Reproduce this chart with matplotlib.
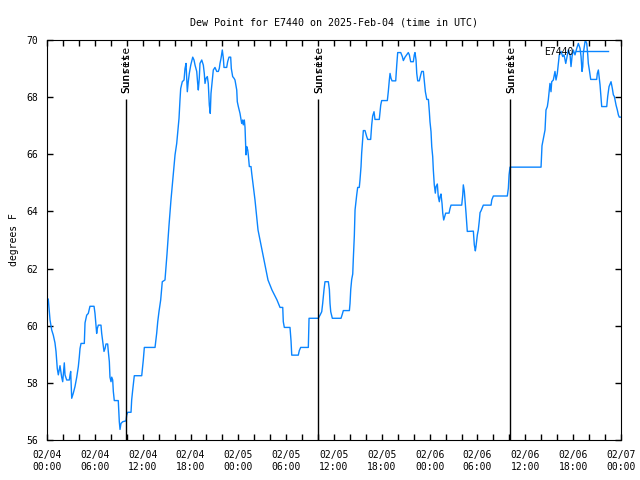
import matplotlib
matplotlib.use('Agg')
import numpy as np
import matplotlib.pyplot as plt

# hours since 2025-02-04 00:00 UTC, dew point in degrees F
hours = [0.16, 0.38, 0.59, 0.79, 1.00, 1.13, 1.29, 1.42, 1.63, 1.84, 1.97, 2.17, 2.26, 2.47, 2.80, 2.89, 2.97,
         3.10, 3.30, 3.51, 3.73, 3.93, 4.05, 4.14, 4.27, 4.68, 4.77, 4.98, 5.18, 5.39, 5.90, 6.02, 6.15, 6.23,
         6.31, 6.44, 6.77, 6.86, 7.06, 7.15, 7.28, 7.40, 7.61, 7.69, 7.82, 7.90, 8.03, 8.12, 8.24, 8.32, 8.44,
         8.94, 9.07, 9.16, 9.28, 9.50, 9.91, 10.00, 10.12, 10.54, 10.62, 10.75, 10.95, 11.88, 12.08, 12.21,
         13.55, 13.76, 13.89, 14.05, 14.26, 14.46, 14.80, 15.05, 15.30, 15.55, 15.84, 16.06, 16.27, 16.39,
         16.56, 16.68, 16.77, 16.97, 17.19, 17.31, 17.44, 17.52, 17.60, 17.72, 17.85, 18.03, 18.28, 18.44,
         18.57, 18.78, 18.90, 18.98, 19.10, 19.19, 19.41, 19.61, 19.73, 19.82, 19.95, 20.11, 20.23, 20.36,
         20.48, 20.57, 20.74, 20.86, 21.07, 21.29, 21.49, 21.61, 21.70, 21.83, 21.99, 22.12, 22.20, 22.54,
         22.66, 22.83, 23.04, 23.12, 23.29, 23.46, 23.58, 23.80, 23.87, 24.00, 24.21, 24.42, 24.55, 24.62,
         24.75, 24.84, 24.96, 25.05, 25.18, 25.25, 25.38, 25.59, 25.68, 26.09, 26.47, 26.97, 27.35, 27.72,
         28.22, 28.85, 29.23, 29.57, 29.64, 29.77, 30.48, 30.61, 30.70, 31.52, 31.65, 31.82, 32.78, 32.87,
         34.03, 34.25, 34.46, 34.58, 34.75, 34.87, 35.29, 35.42, 35.50, 35.59, 35.79, 36.88, 37.05, 37.17,
         37.93, 38.01, 38.10, 38.22, 38.35, 38.42, 38.55, 38.64, 38.85, 38.97, 39.17, 39.26, 39.39, 39.47,
         39.60, 39.68, 39.89, 40.10, 40.23, 40.60, 40.73, 40.85, 41.02, 41.14, 41.68, 41.86, 41.98, 42.69,
         42.81, 42.94, 43.03, 43.15, 43.28, 43.74, 43.87, 43.99, 44.37, 44.57, 44.70, 44.91, 45.12, 45.32,
         45.45, 45.62, 45.95, 46.07, 46.16, 46.29, 46.38, 46.50, 46.70, 46.88, 47.00, 47.21, 47.34, 47.46,
         47.64, 47.84, 47.96, 48.04, 48.17, 48.26, 48.38, 48.46, 48.58, 48.71, 48.80, 48.96, 49.08, 49.21,
         49.30, 49.42, 49.55, 49.64, 49.76, 49.89, 50.01, 50.43, 50.55, 50.68, 52.02, 52.15, 52.22, 52.35,
         52.47, 52.56, 52.65, 52.72, 53.48, 53.60, 53.73, 53.81, 53.98, 54.10, 54.23, 54.32, 54.44, 54.57,
         54.73, 55.70, 55.79, 55.99, 57.74, 57.87, 57.96, 58.08, 61.97, 62.09, 62.47, 62.59, 62.76, 62.88,
         63.09, 63.22, 63.31, 63.51, 63.72, 63.85, 64.01, 64.14, 64.26, 64.48, 64.69, 64.85, 65.07, 65.27,
         65.39, 65.61, 65.73, 65.86, 66.02, 66.23, 66.45, 66.65, 66.86, 66.99, 67.11, 67.20, 67.27, 67.40,
         67.52, 67.70, 67.83, 67.90, 68.03, 68.20, 68.95, 69.03, 69.16, 69.28, 69.37, 69.49, 69.58, 70.21,
         70.33, 70.50, 70.75, 70.91, 71.04, 71.17, 71.38, 71.54, 71.67, 71.79, 72.00]
dewpt = [60.93, 60.2, 59.85, 59.67, 59.4, 59.1, 58.5, 58.28, 58.6, 58.2, 58.04, 58.7, 58.28, 58.1, 58.1, 58.28, 58.4,
         57.46, 57.64, 57.87, 58.2, 58.57, 58.9, 59.2, 59.38, 59.38, 60.1, 60.37, 60.43, 60.68, 60.68, 60.43, 59.97, 59.73,
         59.9, 60.02, 60.02, 59.73, 59.3, 59.1, 59.2, 59.36, 59.36, 59.1, 58.74, 58.2, 58.04, 58.2, 58.1, 57.7, 57.38,
         57.38, 56.64, 56.37, 56.58, 56.64, 56.67, 56.87, 56.97, 56.97, 57.4, 57.75, 58.25, 58.25, 58.8, 59.24,
         59.24, 59.74, 60.14, 60.5, 60.9, 61.54, 61.6, 62.5, 63.5, 64.4, 65.28, 65.98, 66.38, 66.73,
         67.26, 67.9, 68.3, 68.54, 68.6, 69.0, 69.18, 68.72, 68.19, 68.54, 68.83, 69.12, 69.4, 69.3,
         69.12, 68.9, 68.48, 68.25, 68.66, 69.18, 69.3, 69.12, 68.83, 68.48, 68.66, 68.72, 68.48, 67.72,
         67.43, 68.13, 68.6, 68.95, 69.04, 68.9, 68.9, 69.0, 69.18, 69.36, 69.65, 69.36, 69.04, 69.04,
         69.24, 69.4, 69.4, 69.0, 68.72, 68.66, 68.6, 68.25, 67.84, 67.67, 67.43, 67.08, 67.2, 67.03,
         67.2, 66.94, 65.98, 66.27, 66.15, 65.98, 65.57, 65.57, 65.33, 64.4, 63.35, 62.65, 62.1, 61.6,
         61.25, 60.9, 60.64, 60.64, 60.14, 59.94, 59.94, 59.47, 58.97, 58.97, 59.13, 59.24, 59.24, 60.26,
         60.26, 60.37, 60.49, 60.78, 61.27, 61.54, 61.54, 61.27, 60.78, 60.49, 60.26, 60.26, 60.41, 60.53,
         60.53, 60.78, 61.27, 61.62, 61.81, 62.32, 63.15, 64.05, 64.58, 64.84, 64.84, 65.1, 65.57, 66.04,
         66.5, 66.83, 66.83, 66.62, 66.52, 66.52, 67.03, 67.34, 67.49, 67.22, 67.22, 67.72, 67.88, 67.88,
         68.19, 68.6, 68.83, 68.66, 68.57, 68.57, 69.12, 69.56, 69.56, 69.42, 69.28, 69.4, 69.48, 69.56,
         69.48, 69.24, 69.24, 69.48, 69.56, 69.3, 68.83, 68.57, 68.57, 68.78, 68.9, 68.9, 68.54, 68.19,
         67.92, 67.92, 67.49, 67.14, 66.79, 66.27, 65.92, 65.45, 64.93, 64.64, 64.87, 64.96, 64.52, 64.34,
         64.52, 64.61, 64.28, 63.94, 63.7, 63.82, 63.94, 63.94, 64.1, 64.22, 64.22, 64.58, 64.93, 64.7,
         64.28, 63.94, 63.56, 63.3, 63.31, 62.83, 62.62, 62.77, 63.18, 63.35, 63.68, 63.96, 64.02, 64.11,
         64.22, 64.22, 64.4, 64.54, 64.54, 64.81, 65.28, 65.55, 65.55, 66.3, 66.85, 67.55, 67.67, 67.9,
         68.48, 68.19, 68.54, 68.6, 68.9, 68.6, 68.83, 69.18, 69.48, 69.6, 69.42, 69.48, 69.18, 69.48,
         69.65, 69.48, 69.07, 69.42, 69.65, 69.48, 69.71, 69.88, 69.71, 69.42, 68.9, 69.07, 69.53, 69.77,
         70.0, 69.88, 69.48, 69.18, 68.95, 68.62, 68.62, 68.83, 68.95, 68.66, 68.43, 68.02, 67.67, 67.67,
         68.02, 68.37, 68.54, 68.31, 68.08, 68.02, 67.72, 67.55, 67.38, 67.3, 67.3]

sun_hours = [9.9, 34.0, 58.1]
xtick_hours = [0, 6, 12, 18, 24, 30, 36, 42, 48, 54, 60, 66, 72]
xtick_labels = ["02/04\n00:00", "02/04\n06:00", "02/04\n12:00", "02/04\n18:00",
                "02/05\n00:00", "02/05\n06:00", "02/05\n12:00", "02/05\n18:00",
                "02/06\n00:00", "02/06\n06:00", "02/06\n12:00", "02/06\n18:00",
                "02/07\n00:00"]

plt.rcParams['font.family'] = 'DejaVu Sans Mono'
plt.rcParams['font.size'] = 7

fig = plt.figure(figsize=(6.4, 4.8), dpi=100)
ax = fig.add_axes([47/640, 40/480, 574/640, 400/480])

ax.plot(hours, dewpt, color="#0a85ff", lw=1, label="E7440")
ax.vlines(sun_hours, 56, 67.95, color="black", lw=1)
# sunrise and sunset labels land on the same spot, as in the original
for h in sun_hours:
    ax.text(h + 0.1, 68.15, "Sunrise", rotation=90, ha="center", va="bottom", fontsize=8)
    ax.text(h + 0.1, 68.15, "Sunset", rotation=90, ha="center", va="bottom", fontsize=8)

ax.set_xlim(0, 72)
ax.set_ylim(56, 70)
ax.set_xticks(xtick_hours)
ax.set_xticklabels(xtick_labels, linespacing=1.25)
ax.set_xticks(np.arange(0, 73, 2), minor=True)
ax.set_yticks(np.arange(56, 71, 2))
ax.tick_params(which="both", direction="in", top=True, right=True, length=4, width=1)
ax.tick_params(axis="x", pad=7.5)
ax.tick_params(axis="y", pad=6.5)
ax.set_ylabel("degrees F", labelpad=5.5)
ax.set_title("Dew Point for E7440 on 2025-Feb-04 (time in UTC)", fontsize=7.2, pad=10.5)
ax.legend(loc="upper right", frameon=False, markerfirst=False, handlelength=3.3,
          borderaxespad=0.3, handletextpad=0.3, bbox_to_anchor=(0.99, 1.0))

fig.savefig("out.png", dpi=100)
